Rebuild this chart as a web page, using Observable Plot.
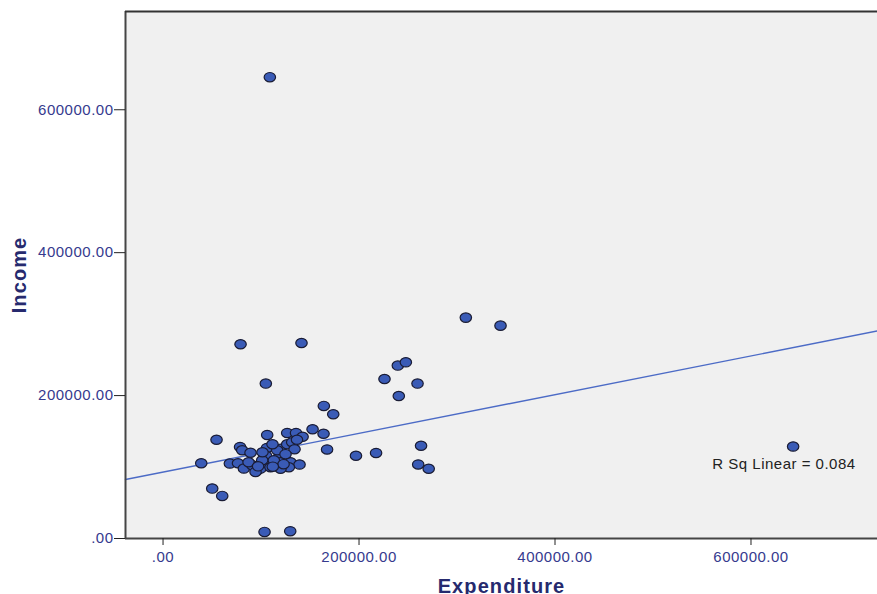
<!DOCTYPE html>
<html>
<head>
<meta charset="utf-8">
<script src="https://cdn.jsdelivr.net/npm/d3@7"></script>
<script src="https://cdn.jsdelivr.net/npm/@observablehq/plot@0.6"></script>
<style>
  html, body { margin: 0; padding: 0; background: #ffffff; }
  #chart { width: 877px; height: 594px; overflow: hidden; }
</style>
</head>
<body>
<div id="chart"></div>
<script>
// ---- Data ----
const expenditure = [
  109000, 79100, 141300, 104900, 309000, 344400, 643000, 226000, 239600, 247800,
  240600, 259700, 164100, 173700, 103600, 129800, 50200, 60400, 39000, 54600,
  196900, 217400, 263300, 260400, 271100, 167400, 152600, 163800, 78600, 80800,
  89300, 68200, 76500, 82500, 91000, 96100, 99500, 106300, 126700, 135700,
  142400, 106100, 119900, 126700, 131800, 136700, 134200, 105100, 118200, 106300,
  119900, 130100, 139300, 128400, 109700, 119900, 101200, 113100, 94400, 116500,
  87300, 101500, 111700, 97000, 123000, 112000, 125000
];
const income = [
  645600, 271800, 273600, 216800, 309100, 297900, 128700, 223200, 242000, 246600,
  199400, 216800, 185500, 173900, 9200, 10200, 69900, 59600, 105300, 138200,
  115800, 119700, 129800, 103600, 97600, 124600, 152900, 146600, 128100, 123500,
  120000, 104900, 105300, 97900, 102500, 95500, 97900, 144900, 147700, 147700,
  142400, 126700, 125600, 131900, 134700, 138200, 124900, 115800, 113700, 105300,
  106700, 106700, 103500, 99700, 99700, 97600, 109500, 109500, 93200, 123500,
  106700, 120700, 131900, 101000, 104000, 100500, 118000
];
const xTicks = [0, 200000, 400000, 600000];
const yTicks = [0, 200000, 400000, 600000];
const xDomain = [-38300, 729100];
const yDomain = [0, 737500];
// Linear fit reported by the chart (R Sq Linear = 0.084)
const fitIntercept = 92870;
const fitSlope = 0.271;
const rSqLabel = "R Sq Linear = 0.084";
const xTitle = "Expenditure";
const yTitle = "Income";

const points = expenditure.map((e, i) => ({expenditure: e, income: income[i]}));
const fitLine = xDomain.map(x => ({expenditure: x, income: fitIntercept + fitSlope * x}));

const fmt = d => d === 0 ? ".00" : d.toFixed(2);

// ellipse symbol (SPSS markers are slightly wider than tall)
const ellipse = {
  draw(ctx, size) {
    const r = Math.sqrt(size / Math.PI);
    const rx = r * 1.1, ry = r * 0.9, k = 0.5523;
    ctx.moveTo(rx, 0);
    ctx.bezierCurveTo(rx, ry * k, rx * k, ry, 0, ry);
    ctx.bezierCurveTo(-rx * k, ry, -rx, ry * k, -rx, 0);
    ctx.bezierCurveTo(-rx, -ry * k, -rx * k, -ry, 0, -ry);
    ctx.bezierCurveTo(rx * k, -ry, rx, -ry * k, rx, 0);
    ctx.closePath();
  }
};

const tickColor = "#363a8e";
const titleColor = "#262a6e";
const axisColor = "#454545";

const chart = Plot.plot({
  width: 877,
  height: 594,
  marginLeft: 125,
  marginRight: 0,
  marginTop: 11,
  marginBottom: 56,
  style: {
    fontFamily: "'Liberation Sans', Arial, sans-serif",
    fontSize: "15px",
    background: "#ffffff",
    overflow: "visible"
  },
  x: {domain: xDomain, label: null},
  y: {domain: yDomain, label: null},
  marks: [
    Plot.frame({fill: "#f0f0f0", stroke: null}),
    Plot.line(fitLine, {x: "expenditure", y: "income", stroke: "#4c6bc6", strokeWidth: 1.4}),
    Plot.dot(points, {
      x: "expenditure", y: "income", r: 5.2, symbol: ellipse,
      fill: "#3a5bb6", stroke: "#1a1c34", strokeWidth: 1.2
    }),
    Plot.ruleX([xDomain[0]], {stroke: axisColor, strokeWidth: 2}),
    Plot.ruleY([yDomain[0]], {stroke: axisColor, strokeWidth: 2, x1: xDomain[0], x2: xDomain[1]}),
    Plot.ruleY([yDomain[1]], {stroke: "#333333", strokeWidth: 2, x1: xDomain[0], x2: xDomain[1]}),
    Plot.axisX({
      ticks: xTicks, tickFormat: fmt, tickSize: 7, tickPadding: 6,
      stroke: "#222", fill: tickColor, fontSize: 15, label: null
    }),
    Plot.axisY({
      ticks: yTicks, tickFormat: fmt, tickSize: 11, tickPadding: 1,
      stroke: "#222", fill: tickColor, fontSize: 15, label: null
    }),
    Plot.text([rSqLabel], {
      x: 560500, y: 104000, text: d => d, textAnchor: "start",
      fill: "#222222", fontSize: 15
    }),
    Plot.text([xTitle], {
      frameAnchor: "bottom", dy: 54, text: d => d, fill: titleColor,
      fontSize: 20, fontWeight: "bold", lineAnchor: "bottom", textAnchor: "middle"
    }),
    Plot.text([yTitle], {
      frameAnchor: "left", dx: -106, rotate: -90, text: d => d, fill: titleColor,
      fontSize: 20, fontWeight: "bold", textAnchor: "middle", lineAnchor: "middle"
    })
  ]
});

// SPSS glyphs are slightly wide: add a little letter spacing to texts
chart.querySelectorAll("text").forEach(t => t.setAttribute("letter-spacing", "0.5"));
chart.querySelectorAll("[aria-label='text'] text").forEach(t => {
  if (t.textContent === xTitle || t.textContent === yTitle) t.setAttribute("letter-spacing", "1.1");
});
document.getElementById("chart").appendChild(chart);
</script>
</body>
</html>
